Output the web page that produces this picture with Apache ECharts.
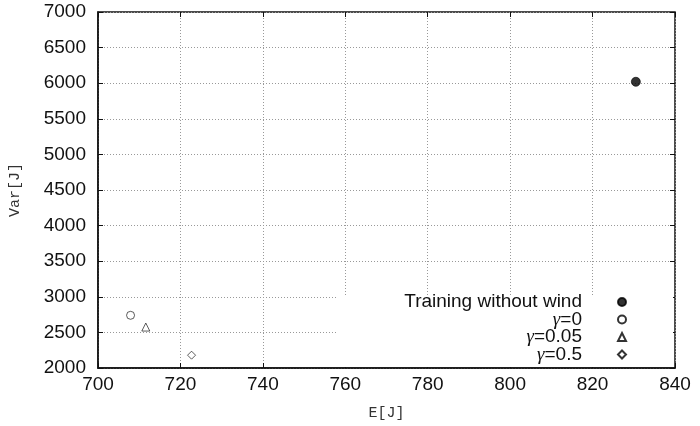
<!DOCTYPE html>
<html>
<head>
<meta charset="utf-8">
<script src="https://cdn.jsdelivr.net/npm/echarts@6/dist/echarts.min.js"></script>
<style>
    html, body { margin: 0; padding: 0; background: #fff; }
    #main { width: 700px; height: 426px; }
</style>
</head>
<body>
<div id="main"></div>
<script>
//--------------------数据---------------------------
var seriesNames = ['Training without wind', 'γ=0', 'γ=0.05', 'γ=0.5'];
var xValues = [830.5, 707.9, 711.6, 722.7];     // E[J]
var yValues = [6020, 2740, 2575, 2180];         // Var[J]
var symbols = ['circle', 'circle', 'triangle', 'diamond'];
var fills = ['#000', '#fff', '#fff', '#fff'];
var xTicks = [700, 720, 740, 760, 780, 800, 820, 840];
var yTicks = [2000, 2500, 3000, 3500, 4000, 4500, 5000, 5500, 6000, 6500, 7000];
//--------------------数据---------------------------

(function(){
    var myChart = echarts.init(document.getElementById('main'));

    var series = [];
    var legends = [];
    for (var i = 0; i < seriesNames.length; i++) {
        series.push({
            name: seriesNames[i],
            type: 'scatter',
            symbol: symbols[i],
            symbolSize: i == 0 ? 9 : 8,
            itemStyle: {
                color: fills[i],
                borderColor: '#000',
                borderWidth: 0.8
            },
            data: [[xValues[i], yValues[i]]],
            z: 5
        });
        legends.push({
            data: [seriesNames[i]],
            orient: 'vertical',
            align: 'right',
            right: 73,
            top: 292.5 + i * 17.5,
            padding: 0,
            itemWidth: 8,
            itemHeight: 8,
            formatter: function (name) {
                if (name.indexOf('γ') === 0) {
                    return '{g|γ}{t|' + name.substring(1) + '}';
                }
                return '{t|' + name + '}';
            },
            textStyle: {
                color: '#111',
                fontFamily: 'Liberation Sans',
                fontSize: 19,
                padding: [0, 31, 0, 0],
                rich: {
                    t: {fontFamily: 'Liberation Sans', fontSize: 19, color: '#111'},
                    g: {fontFamily: 'Liberation Serif', fontStyle: 'italic', fontSize: 19, color: '#111'}
                }
            }
        });
    }

    var option = {
        animation: false,
        grid: {
            left: 98,
            right: 25,
            top: 12,
            bottom: 58,
            show: true,
            borderColor: '#111',
            borderWidth: 1.5,
            backgroundColor: 'transparent'
        },
        legend: legends,
        graphic: [{
            type: 'rect',
            shape: {x: 336, y: 296, width: 337, height: 71},
            style: {fill: '#fff'},
            z: 1
        }],
        xAxis: [{
            type: 'value',
            min: xTicks[0],
            max: xTicks[xTicks.length - 1],
            interval: 20,
            name: 'E[J]',
            nameLocation: 'middle',
            nameGap: 38,
            nameTextStyle: {fontFamily: 'Liberation Mono', fontSize: 15, color: '#333'},
            axisLine: {show: true, lineStyle: {color: '#111', width: 1.5}},
            axisTick: {inside: true, length: 5, lineStyle: {color: '#111'}},
            axisLabel: {margin: 7, color: '#111', fontFamily: 'Liberation Sans', fontSize: 19,
                formatter: function (v) { return String(v); }},
            splitLine: {show: true, lineStyle: {color: '#999', type: [1, 2], width: 1}}
        }, {
            type: 'value',
            position: 'top',
            min: xTicks[0],
            max: xTicks[xTicks.length - 1],
            interval: 20,
            axisLine: {show: false},
            axisTick: {inside: true, length: 5, lineStyle: {color: '#111'}},
            axisLabel: {show: false},
            splitLine: {show: false}
        }],
        yAxis: [{
            type: 'value',
            min: yTicks[0],
            max: yTicks[yTicks.length - 1],
            interval: 500,
            name: 'Var[J]',
            nameLocation: 'middle',
            nameGap: 75,
            nameTextStyle: {fontFamily: 'Liberation Mono', fontSize: 15, color: '#333'},
            axisLine: {show: true, lineStyle: {color: '#111', width: 1.5}},
            axisTick: {inside: true, length: 5, lineStyle: {color: '#111'}},
            axisLabel: {margin: 12, color: '#111', fontFamily: 'Liberation Sans', fontSize: 19,
                formatter: function (v) { return String(v); }},
            splitLine: {show: true, lineStyle: {color: '#999', type: [1, 2], width: 1}}
        }, {
            type: 'value',
            position: 'right',
            min: yTicks[0],
            max: yTicks[yTicks.length - 1],
            interval: 500,
            axisLine: {show: false},
            axisTick: {inside: true, length: 5, lineStyle: {color: '#111'}},
            axisLabel: {show: false},
            splitLine: {show: false}
        }],
        series: series
    };
    myChart.setOption(option);
})();
</script>
</body>
</html>
